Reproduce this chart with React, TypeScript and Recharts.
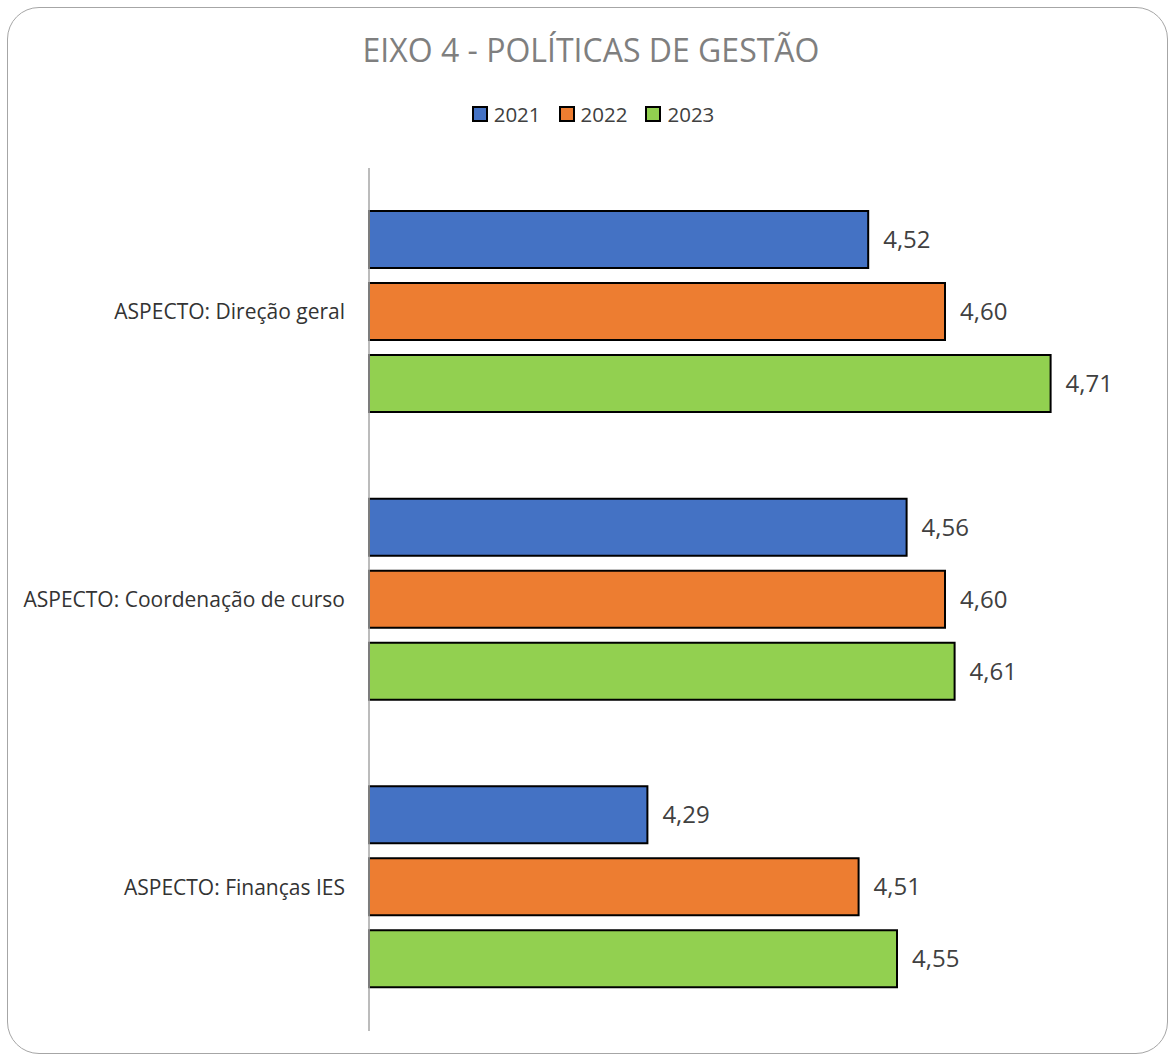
import { Bar, BarChart, LabelList, XAxis, YAxis } from "recharts";

const categories = [
  "ASPECTO: Direção geral",
  "ASPECTO: Coordenação de curso",
  "ASPECTO: Finanças IES",
];
const values2021 = [4.52, 4.56, 4.29];
const values2022 = [4.6, 4.6, 4.51];
const values2023 = [4.71, 4.61, 4.55];
const seriesNames = ["2021", "2022", "2023"];
const seriesColors = ["#4472C4", "#ED7D31", "#92D050"];

const data = categories.map((name, i) => ({
  name,
  y2021: values2021[i],
  y2022: values2022[i],
  y2023: values2023[i],
}));

const font = "'Open Sans', 'Noto Sans', sans-serif";
const fmt = (v: number) => v.toFixed(2).replace(".", ",");

export default function App() {
  return (
    <div
      style={{
        position: "absolute",
        left: 0,
        top: 0,
        width: 1169,
        height: 1055,
        background: "#fff",
        fontFamily: font,
        overflow: "hidden",
      }}
    >
      <div
        style={{
          position: "absolute",
          left: 7,
          top: 7,
          width: 1161,
          height: 1047,
          boxSizing: "border-box",
          border: "1.5px solid #a6a6a6",
          borderRadius: 32,
        }}
      />
      <div
        style={{
          position: "absolute",
          top: 27,
          left: 0,
          width: 1182,
          textAlign: "center",
          fontSize: 32,
          color: "#7f7f7f",
          lineHeight: "46px",
        }}
      >
        EIXO 4 - POLÍTICAS DE GESTÃO
      </div>
      <div
        style={{
          position: "absolute",
          top: 100,
          left: 0,
          width: 1186,
          display: "flex",
          justifyContent: "center",
          gap: 18,
          fontSize: 20.5,
          color: "#404040",
          lineHeight: "28px",
        }}
      >
        {seriesNames.map((s, i) => (
          <div key={s} style={{ display: "flex", alignItems: "center", gap: 6 }}>
            <span
              style={{
                display: "inline-block",
                width: 12,
                height: 12,
                background: seriesColors[i],
                border: "2px solid #000",
              }}
            />
            <span>{s}</span>
          </div>
        ))}
      </div>
      <div style={{ position: "absolute", left: 0, top: 0 }}>
        <BarChart
          width={1169}
          height={1055}
          data={data}
          layout="vertical"
          margin={{ top: 168, right: 32, bottom: 24, left: 0 }}
          barSize={57}
          barGap={15}
          barCategoryGap={43}
        >
          <XAxis type="number" domain={[4, 4.8]} hide />
          <YAxis
            type="category"
            dataKey="name"
            width={369}
            axisLine={{ stroke: "#a6a6a6", strokeWidth: 1.5 }}
            tickLine={false}
            tickSize={0}
            tickMargin={24}
            tick={{ fill: "#333333", fontSize: 21, fontFamily: font }}
          />
          {["y2021", "y2022", "y2023"].map((key, i) => (
            <Bar
              key={key}
              dataKey={key}
              fill={seriesColors[i]}
              stroke="#000"
              strokeWidth={2}
              isAnimationActive={false}
            >
              <LabelList
                dataKey={key}
                position="right"
                offset={15}
                fill="#404040"
                fontSize={24}
                fontFamily={font}
                formatter={(v: any) => fmt(Number(v))}
              />
            </Bar>
          ))}
        </BarChart>
      </div>
    </div>
  );
}
